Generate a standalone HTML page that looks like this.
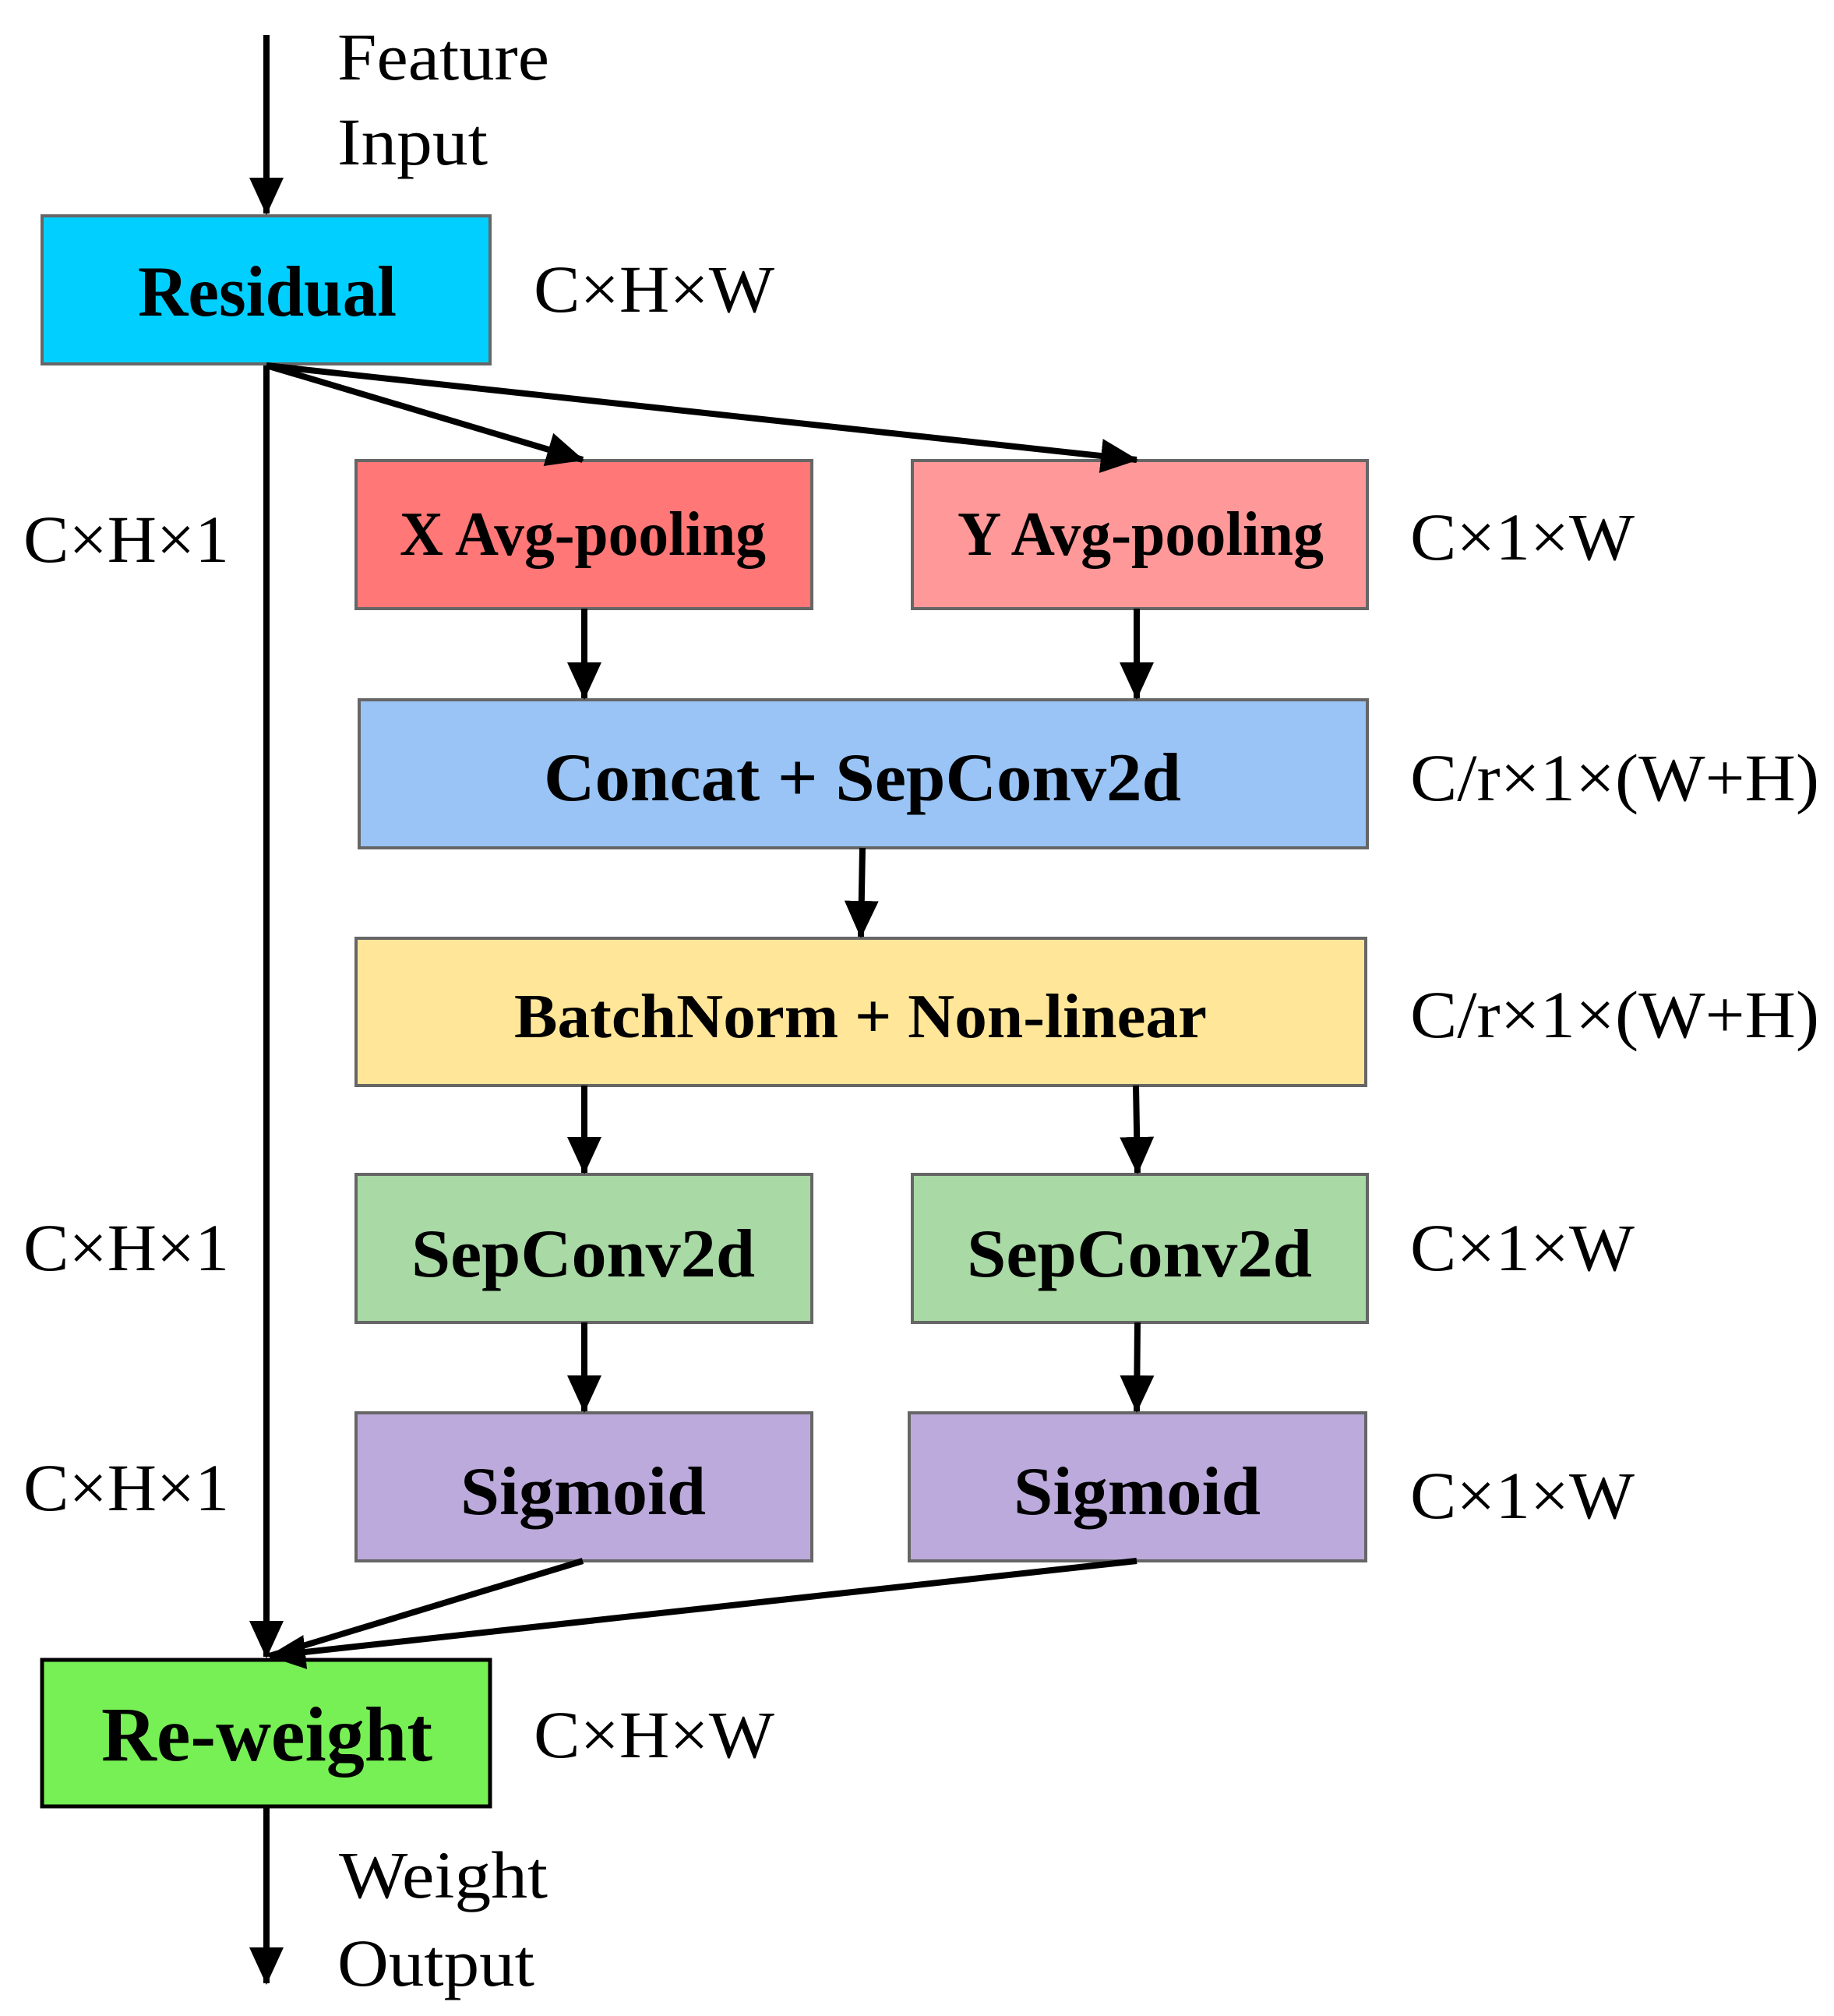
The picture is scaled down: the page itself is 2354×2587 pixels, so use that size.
<!DOCTYPE html>
<html><head><meta charset="utf-8"><style>html,body{margin:0;padding:0;background:#fff}svg{display:block}</style></head>
<body>
<svg width="2354" height="2587" viewBox="0 0 2354 2587" xmlns="http://www.w3.org/2000/svg">
<defs>
<marker id="a" markerWidth="48" markerHeight="44" refX="46" refY="22" orient="auto" markerUnits="userSpaceOnUse">
<path d="M0,0 L48,22 L0,44 Z" fill="#000"/>
</marker>
</defs>
<g stroke="#666" stroke-width="4">
<rect x="54" y="277" width="575" height="190" fill="#00CFFF"/>
<rect x="457" y="591" width="585" height="190" fill="#FF7777"/>
<rect x="1171" y="591" width="584" height="190" fill="#FF9898"/>
<rect x="461" y="898" width="1294" height="190" fill="#99C4F5"/>
<rect x="457" y="1204" width="1296" height="189" fill="#FFE699"/>
<rect x="457" y="1507" width="585" height="190" fill="#A9D9A5"/>
<rect x="1171" y="1507" width="584" height="190" fill="#A9D9A5"/>
<rect x="457" y="1813" width="585" height="190" fill="#BBAADB"/>
<rect x="1167" y="1813" width="586" height="190" fill="#BBAADB"/>
<rect x="54" y="2130" width="575" height="188" fill="#77F055" stroke="#000" stroke-width="5"/>
</g>
<g stroke="#000" stroke-width="8" fill="none">
<line x1="342" y1="45" x2="342" y2="274" marker-end="url(#a)"/>
<line x1="342" y1="469" x2="342" y2="2126" marker-end="url(#a)"/>
<line x1="342" y1="469" x2="748" y2="590" marker-end="url(#a)"/>
<line x1="342" y1="469" x2="1459" y2="590" marker-end="url(#a)"/>
<line x1="750" y1="781" x2="750" y2="896" marker-end="url(#a)"/>
<line x1="1459" y1="781" x2="1459" y2="896" marker-end="url(#a)"/>
<line x1="1107" y1="1088" x2="1105" y2="1202" marker-end="url(#a)"/>
<line x1="750" y1="1393" x2="750" y2="1505" marker-end="url(#a)"/>
<line x1="1458" y1="1393" x2="1460" y2="1505" marker-end="url(#a)"/>
<line x1="750" y1="1697" x2="750" y2="1811" marker-end="url(#a)"/>
<line x1="1460" y1="1697" x2="1459" y2="1811" marker-end="url(#a)"/>
<line x1="748" y1="2003" x2="346" y2="2125"/>
<line x1="1459" y1="2003" x2="346" y2="2125" marker-end="url(#a)"/>
<line x1="342" y1="2318" x2="342" y2="2545" marker-end="url(#a)"/>
</g>
<g font-family="'Liberation Serif', serif" fill="#000" font-size="86">
<text x="433" y="102" textLength="272" lengthAdjust="spacingAndGlyphs">Feature</text>
<text x="433" y="211" textLength="193" lengthAdjust="spacingAndGlyphs">Input</text>
<text x="685" y="400" textLength="309" lengthAdjust="spacingAndGlyphs">C×H×W</text>
<text x="30" y="721" textLength="264" lengthAdjust="spacingAndGlyphs">C×H×1</text>
<text x="1810" y="718" textLength="288" lengthAdjust="spacingAndGlyphs">C×1×W</text>
<text x="1810" y="1027" textLength="525" lengthAdjust="spacingAndGlyphs">C/r×1×(W+H)</text>
<text x="1810" y="1331" textLength="525" lengthAdjust="spacingAndGlyphs">C/r×1×(W+H)</text>
<text x="30" y="1630" textLength="264" lengthAdjust="spacingAndGlyphs">C×H×1</text>
<text x="1810" y="1630" textLength="288" lengthAdjust="spacingAndGlyphs">C×1×W</text>
<text x="30" y="1938" textLength="264" lengthAdjust="spacingAndGlyphs">C×H×1</text>
<text x="1810" y="1948" textLength="288" lengthAdjust="spacingAndGlyphs">C×1×W</text>
<text x="685" y="2255" textLength="309" lengthAdjust="spacingAndGlyphs">C×H×W</text>
<text x="435" y="2435" textLength="268" lengthAdjust="spacingAndGlyphs">Weight</text>
<text x="433" y="2548" textLength="253" lengthAdjust="spacingAndGlyphs">Output</text>
</g>
<g font-family="'Liberation Serif', serif" font-weight="bold" fill="#000">
<text x="177" y="405" font-size="92" textLength="332" lengthAdjust="spacingAndGlyphs">Residual</text>
<text x="513" y="712" font-size="80" textLength="470" lengthAdjust="spacingAndGlyphs">X Avg-pooling</text>
<text x="1229" y="712" font-size="80" textLength="470" lengthAdjust="spacingAndGlyphs">Y Avg-pooling</text>
<text x="698" y="1027" font-size="88" textLength="818" lengthAdjust="spacingAndGlyphs">Concat + SepConv2d</text>
<text x="660" y="1331" font-size="80" textLength="889" lengthAdjust="spacingAndGlyphs">BatchNorm + Non-linear</text>
<text x="528" y="1638" font-size="88" textLength="441" lengthAdjust="spacingAndGlyphs">SepConv2d</text>
<text x="1241" y="1638" font-size="88" textLength="443" lengthAdjust="spacingAndGlyphs">SepConv2d</text>
<text x="591" y="1943" font-size="88" textLength="315" lengthAdjust="spacingAndGlyphs">Sigmoid</text>
<text x="1301" y="1943" font-size="88" textLength="317" lengthAdjust="spacingAndGlyphs">Sigmoid</text>
<text x="130" y="2259" font-size="100" textLength="425" lengthAdjust="spacingAndGlyphs">Re-weight</text>
</g>
</svg>
</body></html>
